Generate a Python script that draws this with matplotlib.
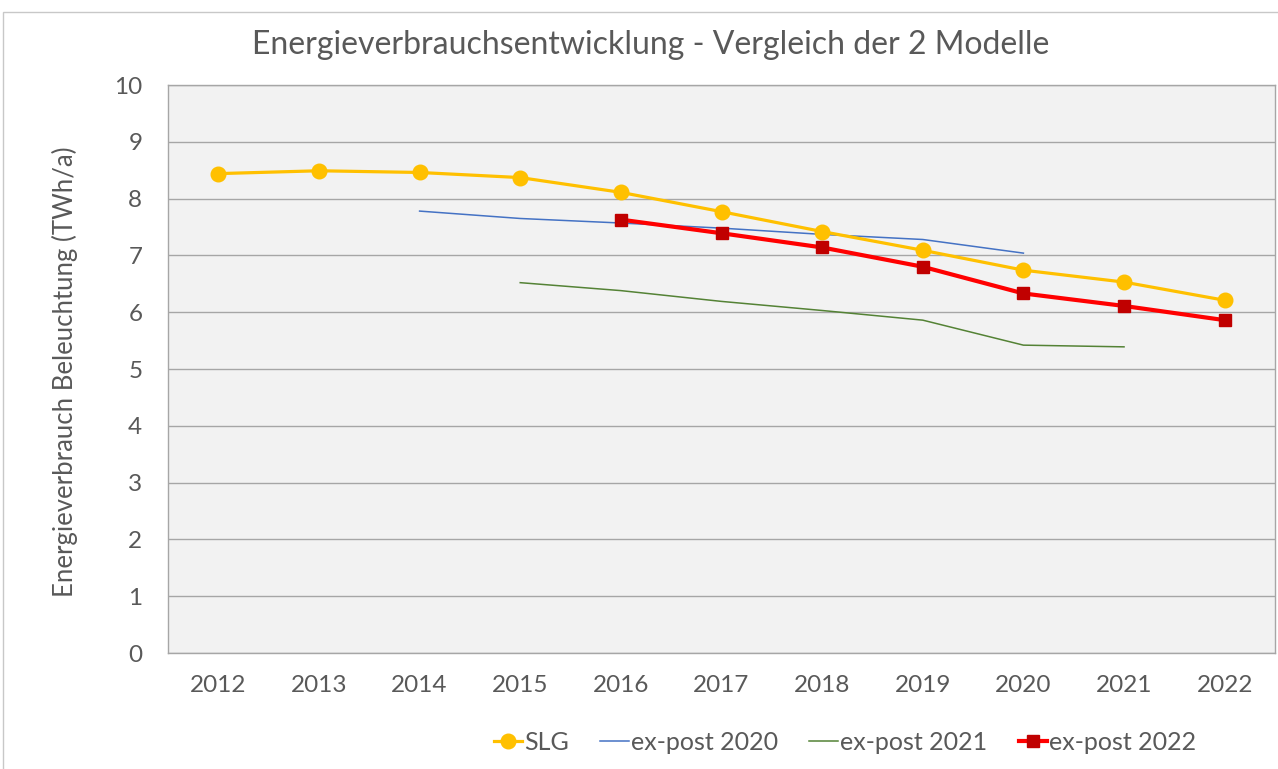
import matplotlib
matplotlib.use("Agg")
import matplotlib.pyplot as plt
from matplotlib.patches import Rectangle

years = [2012, 2013, 2014, 2015, 2016, 2017, 2018, 2019, 2020, 2021, 2022]
slg = [8.44, 8.49, 8.46, 8.37, 8.11, 7.77, 7.42, 7.09, 6.74, 6.53, 6.21]
ex2020_years = [2014, 2015, 2016, 2017, 2018, 2019, 2020]
ex2020 = [7.78, 7.65, 7.57, 7.48, 7.37, 7.28, 7.04]
ex2021_years = [2015, 2016, 2017, 2018, 2019, 2020, 2021]
ex2021 = [6.52, 6.38, 6.19, 6.03, 5.86, 5.42, 5.39]
ex2022_years = [2016, 2017, 2018, 2019, 2020, 2021, 2022]
ex2022 = [7.63, 7.39, 7.14, 6.80, 6.33, 6.11, 5.86]

plt.rcParams['font.family'] = ['Lato', 'DejaVu Sans']
TXT = '#595959'

fig = plt.figure(figsize=(12.78, 7.69), dpi=100)
W, H = 1278, 769

# outer chart-area border
fig.patches.append(Rectangle((3 / W, -0.05), 1.2, 1 - 11.5 / H + 0.05,
                             transform=fig.transFigure, fill=False,
                             edgecolor='#C8C8C8', lw=1, zorder=0))

ax = fig.add_axes([168 / W, 1 - 653 / H, (1275 - 168) / W, (653 - 85) / H])
ax.set_facecolor('#F2F2F2')

idx = {y: i for i, y in enumerate(years)}
ax.plot([idx[y] for y in years], slg, color='#FFC000', lw=2.3, marker='o',
        markersize=10.5, zorder=4, label='SLG')
ax.plot([idx[y] for y in ex2020_years], ex2020, color='#4472C4', lw=1.1,
        zorder=3, label='ex-post 2020')
ax.plot([idx[y] for y in ex2021_years], ex2021, color='#548235', lw=1.1,
        zorder=3, label='ex-post 2021')
ax.plot([idx[y] for y in ex2022_years], ex2022, color='#FF0000', lw=3,
        marker='s', markersize=9, markerfacecolor='#C00000',
        markeredgecolor='#C00000', zorder=5, label='ex-post 2022')

ax.set_xlim(-0.5, len(years) - 0.5)
ax.set_ylim(0, 10)
ax.set_xticks(range(len(years)))
ax.set_xticklabels([str(y) for y in years])
ax.set_yticks(range(0, 11))
ax.tick_params(axis='both', length=0, labelsize=17.5, labelcolor=TXT)
ax.tick_params(axis='x', pad=16)
ax.tick_params(axis='y', pad=18.5)
ax.grid(axis='y', color='#A6A6A6', lw=1)
ax.set_axisbelow(True)
for s in ax.spines.values():
    s.set_color('#A6A6A6')
    s.set_linewidth(1)

fig.text(65 / W, 1 - 372 / H, 'Energieverbrauch Beleuchtung (TWh/a)',
         rotation=90, ha='center', va='center', fontsize=18.5, color=TXT)
fig.text(651 / W, 1 - 45 / H,
         'Energieverbrauchsentwicklung - Vergleich der 2 Modelle',
         ha='center', va='center', fontsize=23, color=TXT)

leg = fig.legend(loc='center', bbox_to_anchor=(845 / W, 1 - 742 / H),
                 ncol=4, frameon=False, fontsize=18, handlelength=1.15,
                 handletextpad=0.08, columnspacing=1.25)
for t in leg.get_texts():
    t.set_color(TXT)

fig.savefig('out.png', dpi=100)
